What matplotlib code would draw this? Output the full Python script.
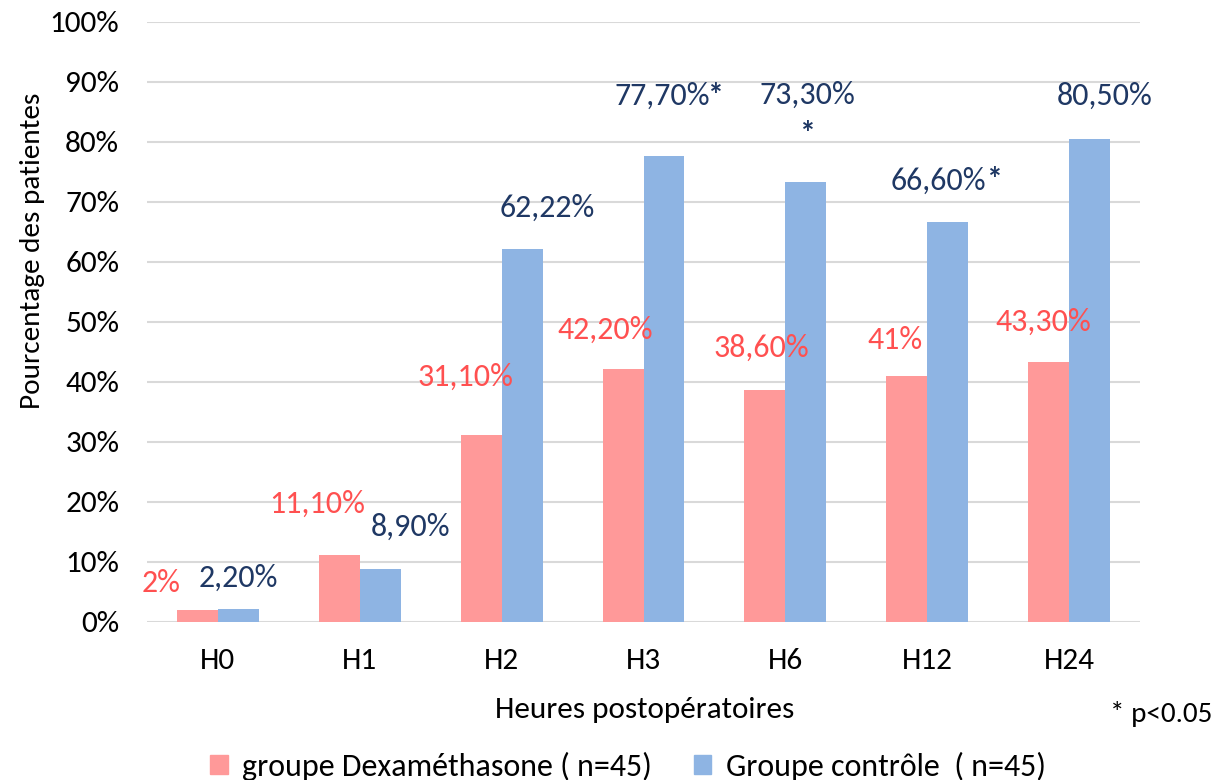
import matplotlib
matplotlib.use("Agg")
import matplotlib.pyplot as plt
from matplotlib import font_manager
from matplotlib.patches import Patch

# Data
categories = ["H0", "H1", "H2", "H3", "H6", "H12", "H24"]
dexa = [2.0, 11.1, 31.1, 42.2, 38.6, 41.0, 43.3]
control = [2.2, 8.9, 62.22, 77.7, 73.3, 66.6, 80.5]
dexa_labels = ["2%", "11,10%", "31,10%", "42,20%", "38,60%", "41%", "43,30%"]
control_labels = ["2,20%", "8,90%", "62,22%", "77,70%", "73,30%", "66,60%", "80,50%"]
significant = [False, False, False, True, True, True, False]

# Label offsets (pixels) relative to the top centre of each bar
dexa_off = [(-36, 27), (-22, 52), (-16, 59), (-18, 39), (-4, 43), (-12, 36), (-5, 40)]
control_off = [(0, 31), (30, 42), (25, 41), (-2, 60), (2, 87), (-9, 42), (15, 43)]
# Offsets of the significance stars
star_off = {3: (52, 60), 4: (2, 48), 5: (47, 42)}

installed = {f.name for f in font_manager.fontManager.ttflist}


def pick(*names):
    for n in names:
        if n in installed:
            return n
    return "DejaVu Sans"


base_font = pick("Carlito", "Lato", "Open Sans")
plt.rcParams["font.family"] = [base_font, "DejaVu Sans"]

RED_BAR = "#FF9999"
BLUE_BAR = "#8EB4E3"
RED_TXT = "#FF5050"
BLUE_TXT = "#1F3864"

W, H = 1222, 780
fig = plt.figure(figsize=(W / 100, H / 100), dpi=100)
ax = fig.add_axes([147 / W, 158 / H, 993 / W, 600 / H])

x = list(range(len(categories)))
bw = 0.289
xr = [i - bw / 2 for i in x]
xb = [i + bw / 2 for i in x]
ax.bar(xr, dexa, width=bw, color=RED_BAR, zorder=2)
ax.bar(xb, control, width=bw, color=BLUE_BAR, zorder=2)

ax.set_xlim(-0.5, len(categories) - 0.5)
ax.set_ylim(0, 100)
ax.set_yticks(range(0, 101, 10))
ax.set_yticklabels([f"{v}%" for v in range(0, 101, 10)])
ax.set_xticks(x)
ax.set_xticklabels(categories)
ax.tick_params(axis="both", length=0, colors="black", labelsize=22.5)
ax.tick_params(axis="y", pad=20)
ax.tick_params(axis="x", pad=19)
ax.grid(axis="y", color="#D9D9D9", linewidth=1.5, zorder=0)
for s in ax.spines.values():
    s.set_visible(False)

lab_fs = 23
for xi, v, t, off in zip(xr, dexa, dexa_labels, dexa_off):
    ax.annotate(t, (xi, v), xytext=off, textcoords="offset pixels",
                ha="center", va="center", color=RED_TXT, fontsize=lab_fs)
for i, (xi, v, t, off) in enumerate(zip(xb, control, control_labels, control_off)):
    ax.annotate(t, (xi, v), xytext=off, textcoords="offset pixels",
                ha="center", va="center", color=BLUE_TXT, fontsize=lab_fs)
    if significant[i]:
        ax.annotate("*", (xi, v), xytext=star_off[i], textcoords="offset pixels",
                    ha="center", va="center", color=BLUE_TXT, fontsize=lab_fs,
                    fontweight="bold")

fig.text(645 / W, 1 - 710 / H, "Heures postopératoires", ha="center", va="center",
         fontsize=22.5)
fig.text(33 / W, 1 - 251 / H, "Pourcentage des patientes", ha="center", va="center",
         rotation=90, fontsize=21)
fig.text(1161 / W, 1 - 714 / H, "* p<0.05", ha="center", va="center", fontsize=21)

handles = [Patch(color=RED_BAR), Patch(color=BLUE_BAR)]
fig.legend(handles, ["groupe Dexaméthasone ( n=45)", "Groupe contrôle  ( n=45)"],
           loc="center", bbox_to_anchor=(628 / W, 1 - 766 / H), ncol=2, frameon=False,
           prop={"size": 23}, handlelength=0.55, handleheight=0.55,
           handletextpad=0.45, columnspacing=1.3, borderpad=0, borderaxespad=0)

fig.savefig("out.png", dpi=100)
